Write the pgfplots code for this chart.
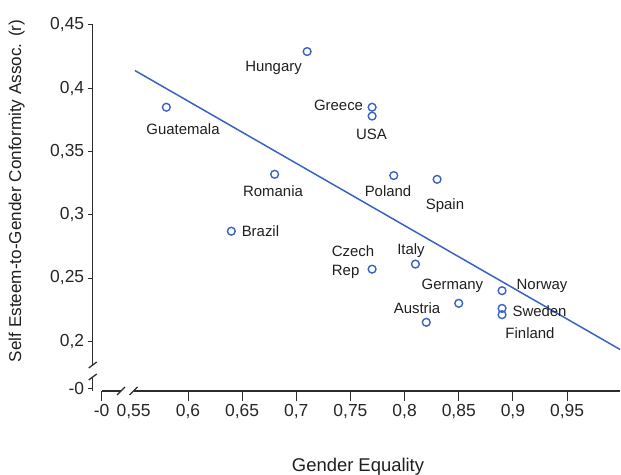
\documentclass[border=0pt]{standalone}
\usepackage{fontspec}
\setmainfont{Liberation Sans}
\usepackage{pgfplots}
\pgfplotsset{compat=1.18}
\definecolor{pblue}{RGB}{58,98,196}
\definecolor{axgray}{RGB}{45,45,45}
\tikzset{lab/.style={anchor=base, font=\fontsize{15}{18}\selectfont, text=black!88, yshift=-5.4bp, inner sep=0pt}}
\begin{document}
\begin{tikzpicture}
\path[use as bounding box] (0,0) rectangle (621bp,475bp);
\begin{axis}[
  at={(92.7bp,84bp)}, anchor=south west,
  scale only axis, width=527.4bp, height=366bp,
  xmin=0.512, xmax=0.999, ymin=0.1607, ymax=0.45,
  axis x line*=bottom, axis y line*=left,
  axis line style={draw=none},
  tick align=outside,
  xtick={0.5203,0.6,0.65,0.7,0.75,0.8,0.85,0.9,0.95},
  xticklabels={-0,{0,6},{0,65},{0,7},{0,75},{0,8},{0,85},{0,9},{0,95}},
  extra x ticks={0.5497},
  extra x tick labels={0{,}55},
  minor xtick={0.5203,0.6,0.65,0.7,0.75,0.8,0.85,0.9,0.95},
  minor tick length=10bp,
  every major x tick/.append style={draw=none},
  xticklabel style={yshift=-4.5bp},
  ytick={0.1625,0.2,0.25,0.3,0.35,0.4,0.45},
  yticklabels={-0,{0,2},{0,25},{0,3},{0,35},{0,4},{0,45}},
  tick style={axgray, line width=1bp},
  major tick length=5bp,
  ticklabel style={font=\fontsize{17.5}{20}\selectfont, text=black!85},
  /pgf/number format/assume math mode=true,
  clip=false,
]
\addplot[pblue, line width=1.5bp] coordinates {(0.551,0.414) (0.999,0.1935)};
\addplot[only marks, mark=o, mark size=3.9bp, mark options={pblue, line width=1.4bp}] coordinates {
(0.710,0.429) (0.770,0.385) (0.770,0.378) (0.580,0.385) (0.680,0.332)
(0.790,0.331) (0.830,0.328) (0.640,0.287) (0.770,0.257) (0.810,0.261)
(0.850,0.230) (0.820,0.215) (0.890,0.240) (0.890,0.226) (0.890,0.221)};
\node[lab] at (axis cs:0.679,0.4176) {Hungary};
\node[lab] at (axis cs:0.739,0.3868) {Greece};
\node[lab] at (axis cs:0.7694,0.3638) {USA};
\node[lab] at (axis cs:0.5954,0.3678) {Guatemala};
\node[lab] at (axis cs:0.6785,0.319) {Romania};
\node[lab] at (axis cs:0.7847,0.319) {Poland};
\node[lab] at (axis cs:0.8373,0.3085) {Spain};
\node[lab] at (axis cs:0.6669,0.2872) {Brazil};
\node[lab] at (axis cs:0.8059,0.2729) {Italy};
\node[lab, anchor=base west] at (axis cs:0.7327,0.2713) {Czech};
\node[lab, anchor=base west] at (axis cs:0.7327,0.2563) {Rep};
\node[lab] at (axis cs:0.8442,0.2453) {Germany};
\node[lab] at (axis cs:0.8115,0.2263) {Austria};
\node[lab] at (axis cs:0.9269,0.2453) {Norway};
\node[lab] at (axis cs:0.9246,0.2239) {Sweden};
\node[lab] at (axis cs:0.9158,0.2065) {Finland};
\end{axis}
% broken axis lines
\begin{scope}[axgray, line width=1.3bp]
\draw (92.7bp,450bp) -- (92.7bp,110bp);
\draw (88.7bp,107bp) -- (96.7bp,113bp);
\draw (88.7bp,95bp) -- (96.7bp,101bp);
\draw (92.7bp,98bp) -- (92.7bp,84bp);
\draw (101.7bp,84bp) -- (121bp,84bp);
\draw (117bp,80bp) -- (125bp,88bp);
\draw (129.5bp,80bp) -- (137.5bp,88bp);
\draw (133.5bp,84bp) -- (620bp,84bp);
\end{scope}
\node[rotate=90, anchor=base, font=\fontsize{17.2}{20}\selectfont, text=black!88] at (21bp,284bp) {Self Esteem-to-Gender Conformity Assoc. (r)};
\node[anchor=base, font=\fontsize{18.5}{20}\selectfont, text=black!88] at (358bp,3.3bp) {Gender Equality};
\end{tikzpicture}
\end{document}
